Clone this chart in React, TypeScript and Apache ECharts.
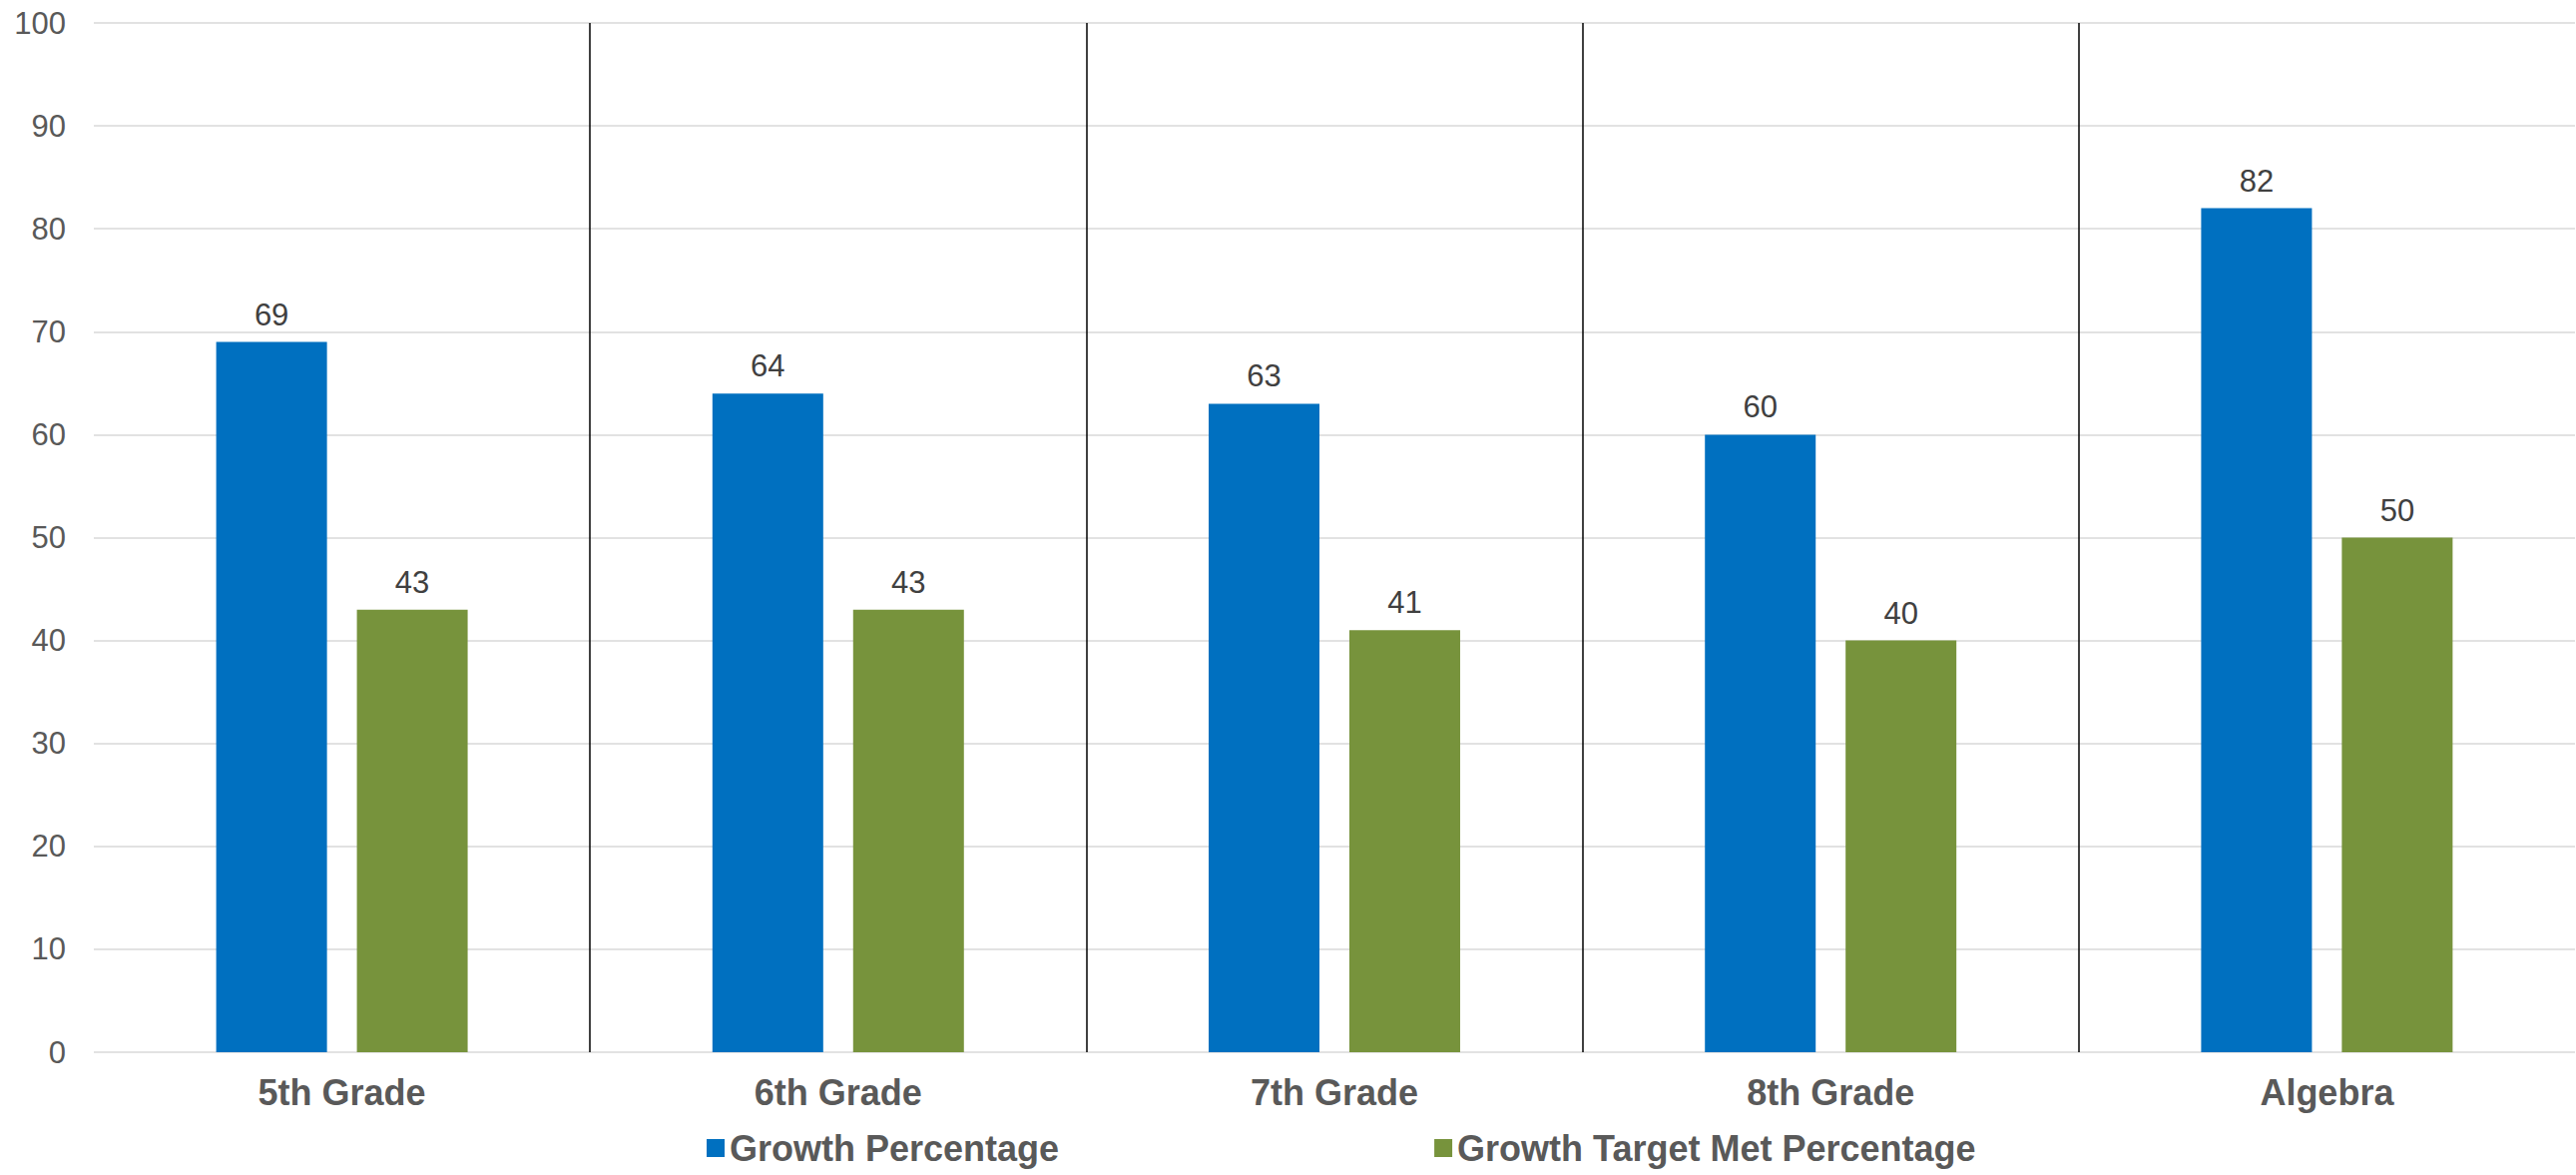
import React, { useEffect, useRef } from "react";
import * as echarts from "echarts";

const categories = ["5th Grade", "6th Grade", "7th Grade", "8th Grade", "Algebra"];
const growthPct = [69, 64, 63, 60, 82];
const targetMetPct = [43, 43, 41, 40, 50];
const seriesNames = ["Growth Percentage", "Growth Target Met Percentage"];

const FONT = "'Liberation Sans', Arial, sans-serif";

export default function App() {
  const ref = useRef<HTMLDivElement>(null);
  useEffect(() => {
    document.body.style.margin = "0";
    const chart = echarts.init(ref.current!, null, { renderer: "svg" });
    const labelCfg = {
      show: true,
      position: "top",
      distance: 12,
      color: "#404040",
      fontSize: 31,
      fontFamily: FONT,
    };
    chart.setOption({
      animation: false,
      backgroundColor: "#ffffff",
      grid: { left: 94, right: 1, top: 23, bottom: 123, containLabel: false },
      legend: {
        left: 703,
        top: 1126,
        icon: "rect",
        itemWidth: 18,
        itemHeight: 18,
        itemGap: 376,
        textStyle: {
          color: "#595959",
          fontSize: 36,
          lineHeight: 38,
          fontWeight: "bold",
          fontFamily: FONT,
        },
        data: seriesNames,
      },
      xAxis: {
        type: "category",
        data: categories,
        axisLine: { show: false },
        axisTick: { show: false },
        axisLabel: {
          color: "#595959",
          fontSize: 36,
          fontWeight: "bold",
          fontFamily: FONT,
          margin: 22,
        },
        splitLine: {
          show: true,
          showMinLine: false,
          showMaxLine: false,
          lineStyle: { color: "#000000", width: 1.5 },
        },
      },
      yAxis: {
        type: "value",
        min: 0,
        max: 100,
        interval: 10,
        axisLine: { show: false },
        axisTick: { show: false },
        axisLabel: { color: "#595959", fontSize: 31, fontFamily: FONT, margin: 28 },
        splitLine: { show: true, lineStyle: { color: "#d9d9d9", width: 1.5 } },
      },
      series: [
        {
          name: seriesNames[0],
          type: "bar",
          data: growthPct,
          barWidth: 111,
          barGap: "27%",
          itemStyle: { color: "#0070C0" },
          label: labelCfg,
        },
        {
          name: seriesNames[1],
          type: "bar",
          data: targetMetPct,
          barWidth: 111,
          barGap: "27%",
          itemStyle: { color: "#77933C" },
          label: labelCfg,
        },
      ],
    });
    return () => chart.dispose();
  }, []);
  return (
    <div
      ref={ref}
      style={{ position: "fixed", left: 0, top: 0, width: 2581, height: 1177 }}
    />
  );
}
